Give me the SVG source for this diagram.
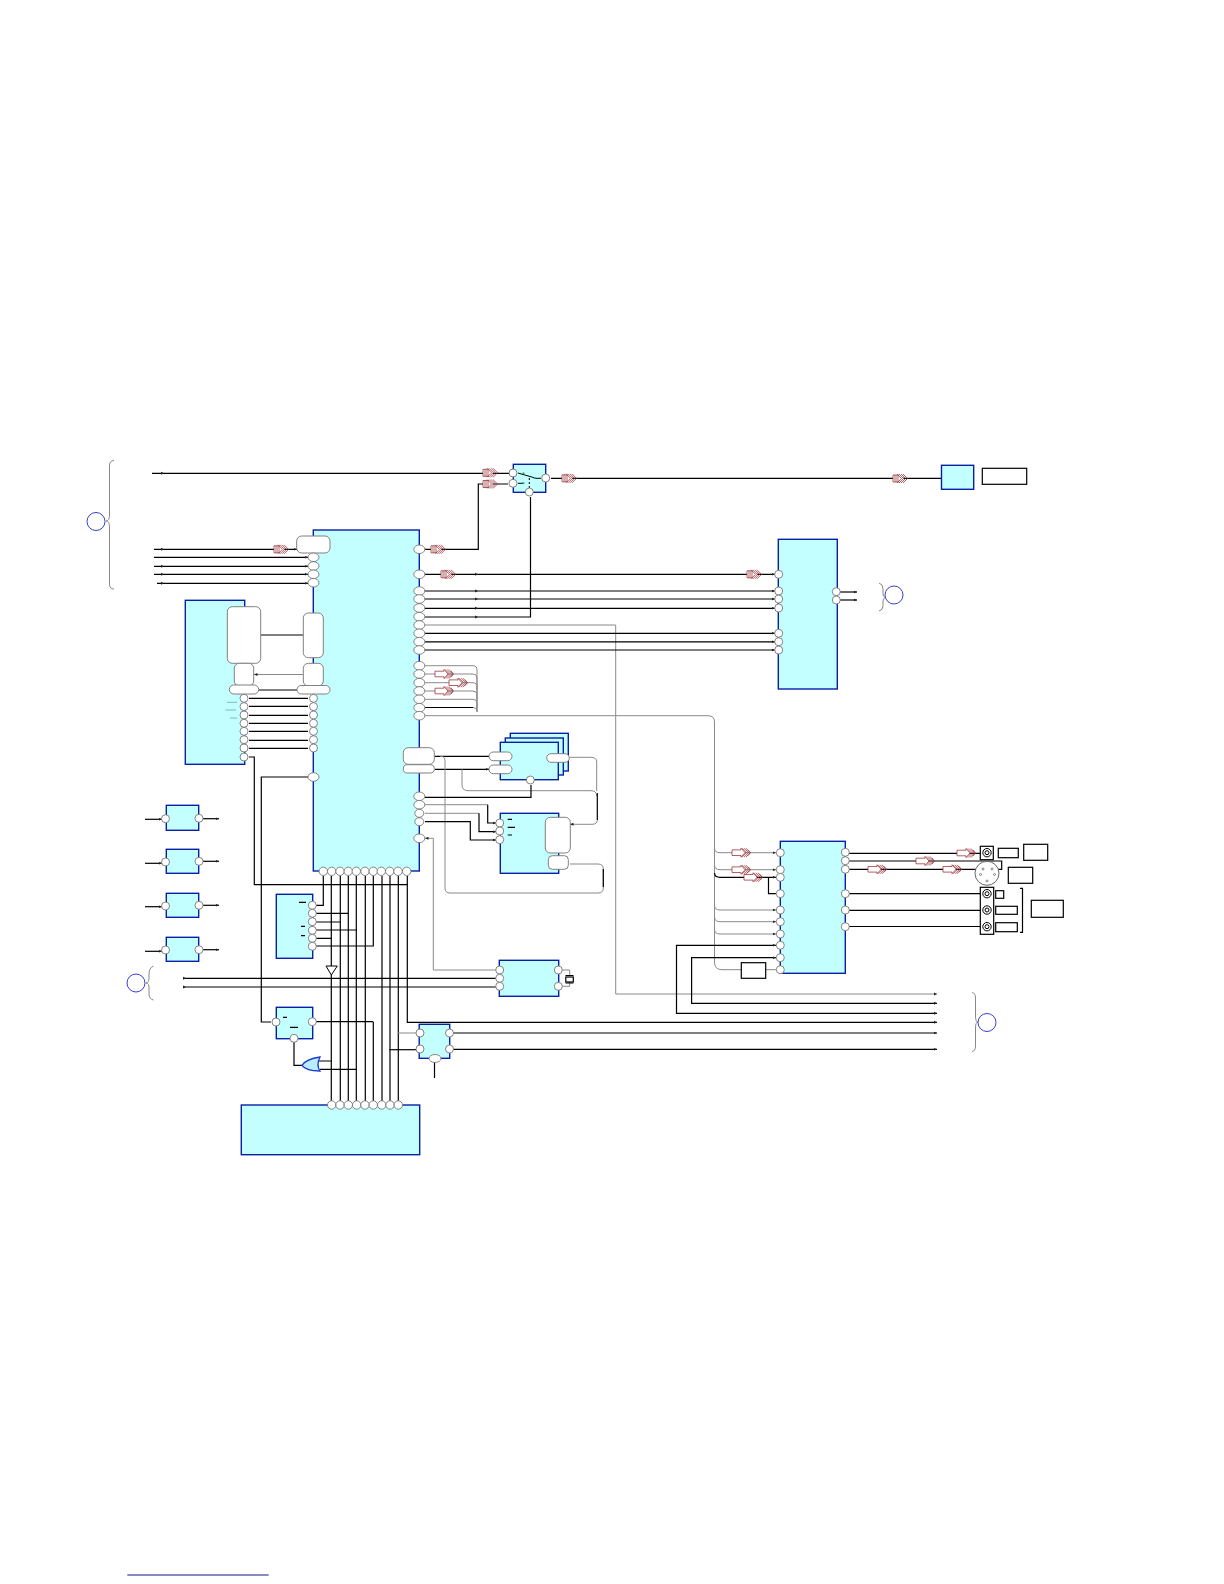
<svg xmlns="http://www.w3.org/2000/svg" width="1224" height="1584" viewBox="0 0 1224 1584">
<style>
.ic{fill:#c4ffff;stroke:#0a1fa8;stroke-width:1.4}
.p{fill:#fff;stroke:#777;stroke-width:.9}
.w{fill:#fff;stroke:#808080;stroke-width:1}
.k{fill:none;stroke:#000;stroke-width:1.2}
.g{fill:none;stroke:#8a8a8a;stroke-width:1}
.r{fill:none;stroke:#000;stroke-width:1.2}
.lb{fill:#fff;stroke:#000;stroke-width:1.2}
.br{fill:none;stroke:#888;stroke-width:1}
.c{fill:#fff;stroke:#3c3cd0;stroke-width:1}
.t{fill:none;stroke:#000;stroke-width:1}
.a{fill:#fff;stroke:#9c3a40;stroke-width:.8}
.d{fill:none;stroke:#9c3a40;stroke-width:.8}
</style>
<defs>
<marker id="h" markerUnits="userSpaceOnUse" markerWidth="4" markerHeight="4" refX="3.500" refY="2" orient="auto"><path d="M0,.5L3.500,2L0,3.500Z" fill="#222"/></marker>
<path id="tri" d="M-3,-1.500L0,0L-3,1.500Z" fill="#222"/>
<g id="dbl"><path class="a" d="M0,-3.500H6V3.500H0Z"/><path class="d" d="M2,-3.500V3.500M4,-3.500V3.500"/><path class="a" d="M6,-4.500L10.500,0L6,4.500"/><path class="d" d="M8,-4.500L12.500,0L8,4.500M10,-4.500L14.500,0L10,4.500M4,-4.500L8.500,0L4,4.500"/></g>
<g id="hol"><path class="a" d="M0,-2.800H9V-4.500L13,0L9,4.500V2.800H0Z"/><path class="d" d="M10,-4.500L14.500,0L10,4.500M12,-4.500L16.500,0L12,4.500M14,-4.500L18,0L14,4.500M16,-3L18.500,0L16,3"/></g>
</defs>

<g id="connectors">
<path class="k" d="M152,473.300H510"/>
<path class="k" d="M425,549.300H478.300V484H508"/>
<path class="k" d="M425,617H530.500V497"/>
<path class="k" d="M551,478.300H941"/>
<path class="k" marker-end="url(#h)" d="M154,549.300H297"/>
<path class="k" marker-end="url(#h)" d="M154,557.300H308"/>
<path class="k" marker-end="url(#h)" d="M154,566.300H308"/>
<path class="k" marker-end="url(#h)" d="M154,574.300H308"/>
<path class="k" marker-end="url(#h)" d="M157,583.300H308"/>
<path class="k" d="M261,635H303"/>
<path class="g" marker-end="url(#h)" d="M303,674.500H254"/>
<path class="k" d="M259,690H297"/>
<path class="k" d="M249,698.300H308M249,706.400H308M249,715.300H308M249,723.300H308M249,731.300H308M249,740.300H308M249,748.300H308"/>
<path class="k" d="M249,757H254.300V884.700H407.300"/>
<path class="k" marker-start="url(#h)" d="M308,777H261.300V1022H271"/>
<path class="k" marker-end="url(#h)" d="M425,574.300H775"/>
<path class="k" marker-end="url(#h)" d="M425,591H775"/>
<path class="k" marker-end="url(#h)" d="M425,599H775"/>
<path class="k" marker-end="url(#h)" d="M425,608.300H775"/>
<path class="g" d="M425,625H615.700V994H937"/>
<path class="k" marker-end="url(#h)" d="M425,633.300H775"/>
<path class="k" marker-end="url(#h)" d="M425,641.800H775"/>
<path class="k" marker-end="url(#h)" d="M425,650H775"/>
<path class="k" marker-end="url(#h)" d="M840,592H857"/>
<path class="k" marker-end="url(#h)" d="M840,600H857"/>
<path class="g" d="M425,665.700H473Q477,665.700 477,670V712"/>
<path class="g" d="M425,674H473Q477,674 477,678V690"/>
<path class="g" d="M425,682.700H473Q477,682.700 477,687V700"/>
<path class="g" d="M425,691H473Q477,691 477,695V708"/>
<path class="g" d="M425,699.300H473Q477,699.300 477,703V712"/>
<path class="k" d="M425,707.500H473"/>
<path class="g" d="M473,707.500Q477,707.500 477,711"/>
<path class="g" d="M425,715.700H708Q714.500,715.700 714.500,722V962Q714.500,969.700 722,969.700H741"/>
<path class="g" d="M765,969.700H776"/>
<path class="g" marker-end="url(#h)" d="M714.500,848Q714.500,852.700 720,852.700H776"/>
<path class="g" marker-end="url(#h)" d="M714.500,865Q714.500,869.700 720,869.700H776"/>
<path class="k" marker-end="url(#h)" d="M714.500,873Q714.500,877.300 720,877.300H776"/>
<path class="k" d="M768.500,877.300V893.700H776"/>
<path class="g" marker-end="url(#h)" d="M714.500,905Q714.500,910 720,910H776"/>
<path class="g" marker-end="url(#h)" d="M714.500,917Q714.500,921.700 720,921.700H776"/>
<path class="g" marker-end="url(#h)" d="M714.500,929Q714.500,934 720,934H776"/>
<path class="k" marker-end="url(#h)" d="M937,1013.300H676.500V945.300H776"/>
<path class="k" marker-end="url(#h)" d="M937,1003.300H691.600V957.700H776"/>
<path class="k" d="M849,853.300H985"/>
<path class="k" d="M849,861H1001.700V869.300H849"/>
<path class="k" d="M849,893.700H985M849,910.300H985M849,926.500H985"/>
<path class="k" marker-start="url(#h)" d="M435,756.300H489"/>
<path class="k" marker-end="url(#h)" d="M435,769.300H489"/>
<path class="g" d="M440,756.300H441Q445,756.300 445,761V888Q445,893 450,893H598Q603.300,893 603.300,888V869Q603.300,864 598,864H570"/>
<path class="k" d="M603.300,869V887"/>
<path class="g" d="M462,769.300V785Q462,790.700 468,790.700H591Q596.700,790.700 596.700,796"/>
<path class="g" d="M570,757.300H591Q596.700,757.300 596.700,762V791"/>
<path class="k" d="M597.300,793V820"/>
<path class="g" marker-end="url(#h)" d="M597.300,820Q597.300,824.300 592,824.300H570"/>
<path class="k" d="M425,797.300H531V785"/>
<path class="g" d="M425,804.700H487.700"/>
<path class="k" marker-end="url(#h)" d="M487.700,804.700V823H496"/>
<path class="g" d="M425,813.300H479"/>
<path class="k" marker-end="url(#h)" d="M479,813.300V831.700H496"/>
<path class="k" marker-end="url(#h)" d="M425,821.700H470.300V840H496"/>
<path class="g" marker-end="url(#h)" d="M496,970H433.300V838.300H425"/>
<path class="k" d="M183,978.300H496M183,987H496"/>
<path class="g" d="M562,970H569.700V976M562,986.300H569.700V982"/>
<path class="k" d="M323.300,876V905.300H316"/>
<path class="k" d="M331.300,876V966"/>
<path class="k" d="M331.300,975V1101"/>
<path class="k" d="M340.300,876V1101M348.300,876V1101M356.300,876V1101M365.300,876V1101"/>
<path class="k" d="M373.300,876V946H316"/>
<path class="k" d="M373.300,1022V1101"/>
<path class="k" d="M382,876V1101M390,876V1101M398.300,876V1101"/>
<path class="k" d="M407.300,876V1022.300H937"/>
<path class="k" d="M316,913.300H348.300M316,922H340M316,930H357M316,938.300H332"/>
<path class="k" d="M316,1021.700H373.300"/>
<path class="k" d="M294,1042V1065.300H302"/>
<path class="k" d="M318,1061H331.300M320,1069.300H357"/>
<path class="g" d="M397.700,1033H416"/>
<path class="k" d="M389.300,1049.700H416"/>
<path class="k" marker-end="url(#h)" d="M453,1033H937"/>
<path class="k" marker-end="url(#h)" d="M453,1049.300H937"/>
<path class="k" d="M434.500,1062V1078"/>
<path class="k" marker-end="url(#h)" d="M145,819.300H162"/>
<path class="k" marker-end="url(#h)" d="M203,818.700H219"/>
<path class="k" marker-end="url(#h)" d="M145,863.300H162"/>
<path class="k" marker-end="url(#h)" d="M203,861.300H219"/>
<path class="k" marker-end="url(#h)" d="M145,906.700H162"/>
<path class="k" marker-end="url(#h)" d="M203,905.300H219"/>
<path class="k" marker-end="url(#h)" d="M145,951.300H162"/>
<path class="k" marker-end="url(#h)" d="M203,949.700H219"/>
<g id="ticks">
<use href="#tri" x="164" y="473.300"/><use href="#tri" x="164" y="549.300"/><use href="#tri" x="164" y="566.300"/><use href="#tri" x="164" y="574.300"/><use href="#tri" x="164" y="583.300"/>
<use href="#tri" x="478" y="574.300"/><use href="#tri" x="478" y="591"/><use href="#tri" x="478" y="599"/><use href="#tri" x="478" y="608.300"/><use href="#tri" x="478" y="617"/>
<use href="#tri" x="937" y="994"/><use href="#tri" x="937" y="1003.300"/><use href="#tri" x="937" y="1013.300"/><use href="#tri" x="937" y="1022.300"/>
<use href="#tri" x="186" y="978.300"/><use href="#tri" x="186" y="987"/>
</g>
</g>

<g id="u-switch"><rect class="ic" x="513.300" y="464.300" width="32.400" height="28"/>
<path class="t" d="M518,473L530,476.500L536,478.300H541M518,483.300H524"/><path class="t" stroke-dasharray="2 2" d="M529.300,478V488"/>
<circle cx="523.500" cy="473.300" r="1" fill="#2a6"/><circle cx="534.500" cy="478" r="1" fill="#2a6"/><circle cx="523.500" cy="483.300" r="1" fill="#2a6"/>
<circle class="p" cx="513" cy="473" r="4"/><circle class="p" cx="513" cy="483.300" r="4"/><circle class="p" cx="545.700" cy="478" r="4"/><circle class="p" cx="529.300" cy="492" r="4"/></g>
<g id="u-top-right"><rect class="ic" x="941.500" y="465.300" width="32.200" height="24"/></g>
<g id="lbl-top-right"><rect class="lb" x="982.300" y="468.300" width="44.400" height="16"/></g>

<g id="u-main"><rect class="ic" x="313.300" y="530" width="106" height="341"/>
<rect class="w" x="296.700" y="536" width="33.300" height="17" rx="5"/>
<rect class="w" x="303.300" y="613" width="20" height="44.700" rx="5"/>
<rect class="w" x="303.300" y="663.300" width="20" height="22.700" rx="5"/>
<rect class="w" x="297" y="685.500" width="33" height="8.500" rx="4.200"/>
<rect class="w" x="403.300" y="747.700" width="31" height="16.600" rx="5"/>
<rect class="w" x="403.300" y="764.700" width="31" height="8.300" rx="4.100"/>
<g class="pins">
<ellipse class="p" cx="313.500" cy="557.300" rx="5.500" ry="4.300"/><ellipse class="p" cx="313.500" cy="566" rx="5.500" ry="4.300"/><ellipse class="p" cx="313.500" cy="574.300" rx="5.500" ry="4.300"/><ellipse class="p" cx="313.500" cy="582.700" rx="5.500" ry="4.300"/>
<circle class="p" cx="313.500" cy="698.300" r="4"/><circle class="p" cx="313.500" cy="706.600" r="4"/><circle class="p" cx="313.500" cy="715" r="4"/><circle class="p" cx="313.500" cy="723.300" r="4"/><circle class="p" cx="313.500" cy="731.300" r="4"/><circle class="p" cx="313.500" cy="739.700" r="4"/><circle class="p" cx="313.500" cy="748" r="4"/>
<ellipse class="p" cx="313.500" cy="777" rx="5.500" ry="4.300"/>
<ellipse class="p" cx="419.300" cy="549.300" rx="5.500" ry="4.300"/><ellipse class="p" cx="419.300" cy="574.300" rx="5.500" ry="4.300"/>
<ellipse class="p" cx="419.300" cy="591" rx="5.500" ry="4.300"/><ellipse class="p" cx="419.300" cy="599" rx="5.500" ry="4.300"/><ellipse class="p" cx="419.300" cy="608" rx="5.500" ry="4.300"/><ellipse class="p" cx="419.300" cy="616.700" rx="5.500" ry="4.300"/><ellipse class="p" cx="419.300" cy="625" rx="5.500" ry="4.300"/><ellipse class="p" cx="419.300" cy="633.300" rx="5.500" ry="4.300"/><ellipse class="p" cx="419.300" cy="641.700" rx="5.500" ry="4.300"/><ellipse class="p" cx="419.300" cy="650" rx="5.500" ry="4.300"/>
<ellipse class="p" cx="419.300" cy="665.700" rx="5.500" ry="4.300"/><ellipse class="p" cx="419.300" cy="674" rx="5.500" ry="4.300"/><ellipse class="p" cx="419.300" cy="682.700" rx="5.500" ry="4.300"/><ellipse class="p" cx="419.300" cy="691" rx="5.500" ry="4.300"/><ellipse class="p" cx="419.300" cy="699.300" rx="5.500" ry="4.300"/><ellipse class="p" cx="419.300" cy="707.700" rx="5.500" ry="4.300"/><ellipse class="p" cx="419.300" cy="715.700" rx="5.500" ry="4.300"/>
<ellipse class="p" cx="419.300" cy="796.300" rx="5.500" ry="4.300"/><ellipse class="p" cx="419.300" cy="804.700" rx="5.500" ry="4.300"/><ellipse class="p" cx="419.300" cy="813.300" rx="4.500" ry="4"/><ellipse class="p" cx="419.300" cy="821.700" rx="4.500" ry="4"/><ellipse class="p" cx="419.300" cy="838.300" rx="5.500" ry="4.300"/>
<circle class="p" cx="323.300" cy="871.300" r="4.200"/><circle class="p" cx="331.700" cy="871.300" r="4.200"/><circle class="p" cx="340" cy="871.300" r="4.200"/><circle class="p" cx="348.300" cy="871.300" r="4.200"/><circle class="p" cx="356.300" cy="871.300" r="4.200"/><circle class="p" cx="365" cy="871.300" r="4.200"/><circle class="p" cx="373.300" cy="871.300" r="4.200"/><circle class="p" cx="381.300" cy="871.300" r="4.200"/><circle class="p" cx="389.700" cy="871.300" r="4.200"/><circle class="p" cx="398" cy="871.300" r="4.200"/><circle class="p" cx="406.700" cy="871.300" r="4.200"/>
</g></g>

<g id="u-left"><rect class="ic" x="185.300" y="600.300" width="59.400" height="164"/>
<rect class="w" x="227.300" y="606.700" width="33.400" height="56.600" rx="5"/>
<rect class="w" x="234.300" y="663.300" width="19.400" height="22.700" rx="5"/>
<rect class="w" x="229.300" y="685" width="29.400" height="9" rx="4.500"/>
<path d="M227,702.300H237M225.500,710H236M230,718H237" fill="none" stroke="#6aa" stroke-width=".8"/>
<circle class="p" cx="244" cy="698.300" r="4"/><circle class="p" cx="244" cy="706.600" r="4"/><circle class="p" cx="244" cy="715" r="4"/><circle class="p" cx="244" cy="723.300" r="4"/><circle class="p" cx="244" cy="731.300" r="4"/><circle class="p" cx="244" cy="739.700" r="4"/><circle class="p" cx="244" cy="748" r="4"/><circle class="p" cx="244" cy="757" r="4"/></g>

<g id="u-right-top"><rect class="ic" x="778.300" y="539.300" width="59" height="149.700"/>
<circle class="p" cx="778.700" cy="574.300" r="4"/><circle class="p" cx="778.700" cy="591" r="4"/><circle class="p" cx="778.700" cy="599" r="4"/><circle class="p" cx="778.700" cy="608" r="4"/><circle class="p" cx="778.700" cy="633.300" r="4"/><circle class="p" cx="778.700" cy="641.700" r="4"/><circle class="p" cx="778.700" cy="650" r="4"/><circle class="p" cx="836.300" cy="591.700" r="4"/><circle class="p" cx="836.300" cy="600" r="4"/></g>

<g id="u-stack"><rect class="ic" x="510.300" y="733.300" width="58" height="37.700"/><rect class="ic" x="505.300" y="738" width="58" height="37"/><rect class="ic" x="500.300" y="742.300" width="58" height="37.400"/>
<rect class="w" x="489" y="752" width="23" height="8.700" rx="4.300"/><rect class="w" x="489" y="765" width="23" height="8.700" rx="4.300"/><rect class="w" x="546.700" y="753.700" width="22.600" height="8.600" rx="4.300"/><circle class="p" cx="530.300" cy="780" r="4"/></g>

<g id="u-mid"><rect class="ic" x="500.300" y="813.300" width="58.400" height="60"/>
<path class="k" d="M507.700,819.300H512M507.700,827.300H515M507.700,835H512"/>
<rect class="w" x="545.300" y="817.300" width="25" height="35.700" rx="5"/><rect class="w" x="548.300" y="855.700" width="20" height="13.600" rx="4"/>
<circle class="p" cx="499.700" cy="823" r="4"/><circle class="p" cx="499.700" cy="831" r="4"/><circle class="p" cx="499.700" cy="839.700" r="4"/></g>

<g id="u-xtal"><rect class="ic" x="499.300" y="960.300" width="59.400" height="36"/>
<circle class="p" cx="499.700" cy="970" r="4"/><circle class="p" cx="499.700" cy="978.300" r="4"/><circle class="p" cx="499.700" cy="986.300" r="4"/><circle class="p" cx="558.300" cy="970" r="4"/><circle class="p" cx="558.300" cy="986.300" r="4"/>
<rect x="565.800" y="977" width="7.500" height="5" fill="#fff" stroke="#000" stroke-width="1.200"/><path class="k" d="M565.500,975.500H573.500M565.500,983H573.500"/></g>

<g id="u-av"><rect class="ic" x="780.300" y="841.300" width="65" height="132"/>
<circle class="p" cx="780.300" cy="852.700" r="4"/><circle class="p" cx="780.300" cy="869.700" r="4"/><circle class="p" cx="780.300" cy="877.300" r="4"/><circle class="p" cx="780.300" cy="893.700" r="4"/><circle class="p" cx="780.300" cy="910" r="4"/><circle class="p" cx="780.300" cy="921.700" r="4"/><circle class="p" cx="780.300" cy="934" r="4"/><circle class="p" cx="780.300" cy="945.300" r="4"/><circle class="p" cx="780.300" cy="957.700" r="4"/><circle class="p" cx="780.300" cy="969.700" r="4"/>
<circle class="p" cx="845.300" cy="852.300" r="4"/><circle class="p" cx="845.300" cy="860.700" r="4"/><circle class="p" cx="845.300" cy="869.300" r="4"/><circle class="p" cx="845.300" cy="893.700" r="4"/><circle class="p" cx="845.300" cy="910" r="4"/><circle class="p" cx="845.300" cy="926.700" r="4"/></g>
<g id="lbl-av"><rect class="lb" x="741.300" y="962.700" width="24.400" height="15.600"/></g>

<g id="j-top"><rect class="lb" x="980.300" y="846.300" width="13" height="13.400"/><circle class="t" cx="987" cy="852.700" r="4.200"/><circle class="t" cx="987" cy="852.700" r="2"/></g>
<g id="j-mic"><circle cx="987" cy="873.300" r="12" fill="#fff" stroke="#666"/><circle cx="983" cy="869" r="1" fill="#fff" stroke="#444" stroke-width=".6"/><circle cx="992" cy="869" r="1" fill="#fff" stroke="#444" stroke-width=".6"/><circle cx="980.500" cy="874.500" r="1" fill="#fff" stroke="#444" stroke-width=".6"/><circle cx="994.500" cy="874.500" r="1" fill="#fff" stroke="#444" stroke-width=".6"/><circle cx="987" cy="881" r="1" fill="#fff" stroke="#444" stroke-width=".6"/></g>
<g id="j-tri"><rect class="lb" x="980.300" y="887.300" width="13.400" height="47"/><circle class="t" cx="987" cy="893.700" r="4.200"/><circle class="t" cx="987" cy="893.700" r="2"/><circle class="t" cx="987" cy="910" r="4.200"/><circle class="t" cx="987" cy="910" r="2"/><circle class="t" cx="987" cy="926.700" r="4.200"/><circle class="t" cx="987" cy="926.700" r="2"/></g>
<g id="lbl-outs">
<rect class="lb" x="998.300" y="848.300" width="20" height="9.400"/><rect class="lb" x="1023.700" y="844.300" width="24" height="16"/><rect class="lb" x="1008.300" y="867.300" width="24.400" height="16"/>
<rect class="lb" x="995.700" y="890.700" width="8" height="7.600"/><rect class="lb" x="995.700" y="906.300" width="21.600" height="8"/><rect class="lb" x="995.700" y="922.700" width="21.600" height="9"/>
<path class="r" d="M1020,888.300H1022.500V932.300H1020"/>
<rect class="lb" x="1031.300" y="900.300" width="32" height="17"/></g>

<g id="u-bot"><rect class="ic" x="241.300" y="1105" width="178.400" height="49.700"/>
<circle class="p" cx="331.700" cy="1105" r="4.200"/><circle class="p" cx="340" cy="1105" r="4.200"/><circle class="p" cx="348.300" cy="1105" r="4.200"/><circle class="p" cx="356.700" cy="1105" r="4.200"/><circle class="p" cx="365" cy="1105" r="4.200"/><circle class="p" cx="373.300" cy="1105" r="4.200"/><circle class="p" cx="381.700" cy="1105" r="4.200"/><circle class="p" cx="390" cy="1105" r="4.200"/><circle class="p" cx="398.300" cy="1105" r="4.200"/></g>

<g id="u-six"><rect class="ic" x="276.300" y="894.300" width="36.400" height="64"/>
<path class="k" d="M299,902.300H306M301,926.300H305M301,935.700H305"/>
<circle class="p" cx="312.300" cy="905.300" r="4"/><circle class="p" cx="312.300" cy="913.300" r="4"/><circle class="p" cx="312.300" cy="921.700" r="4"/><circle class="p" cx="312.300" cy="930.300" r="4"/><circle class="p" cx="312.300" cy="938.300" r="4"/><circle class="p" cx="312.300" cy="946.300" r="4"/></g>
<g id="buf"><path d="M326,966H337.300L331.300,975Z" fill="#fff" stroke="#000" stroke-width="1"/></g>
<g id="u-flop"><rect class="ic" x="276.300" y="1007.300" width="36.400" height="31.400"/><path class="k" d="M283,1017.300H287M290,1027.300H298"/><circle class="p" cx="276" cy="1022" r="4"/><circle class="p" cx="312.300" cy="1021.700" r="4"/><circle class="p" cx="294" cy="1038.300" r="4"/></g>
<g id="or"><path d="M302,1065.300Q306,1059 320,1057Q316,1065 320,1071Q306,1071 302,1065.300Z" fill="#b9ecff" stroke="#1a3ad0" stroke-width="1.300"/></g>
<g id="u-sw2"><rect class="ic" x="419.200" y="1024.300" width="30.500" height="34"/><circle class="p" cx="420" cy="1033" r="4"/><circle class="p" cx="420" cy="1049" r="4"/><circle class="p" cx="449.500" cy="1033" r="4"/><circle class="p" cx="449.500" cy="1049" r="4"/><ellipse class="p" cx="435" cy="1058.500" rx="6" ry="4"/></g>

<g id="u-b1"><rect class="ic" x="166.300" y="805.300" width="32.400" height="25"/><circle class="p" cx="165.500" cy="818.700" r="4"/><circle class="p" cx="199" cy="818.300" r="4"/></g>
<g id="u-b2"><rect class="ic" x="166.300" y="849.300" width="32.400" height="24"/><circle class="p" cx="165.500" cy="862" r="4"/><circle class="p" cx="199" cy="861.300" r="4"/></g>
<g id="u-b3"><rect class="ic" x="166.300" y="893.300" width="32.400" height="24"/><circle class="p" cx="165.500" cy="906" r="4"/><circle class="p" cx="199" cy="905.300" r="4"/></g>
<g id="u-b4"><rect class="ic" x="166.300" y="937.300" width="32.400" height="24"/><circle class="p" cx="165.500" cy="950" r="4"/><circle class="p" cx="199" cy="949.700" r="4"/></g>

<g id="braces">
<path class="br" d="M114,460.500Q109.500,460.500 109.500,466V515Q109.500,521 106,521Q109.500,521 109.500,527V584Q109.500,589 114,589"/>
<circle class="c" cx="96" cy="521.500" r="9"/>
<path class="br" d="M153.500,966Q149,968 149,974V978Q149,983 146,983Q149,983 149,988V994Q149,999 153.500,1000"/>
<circle class="c" cx="136" cy="983" r="9"/>
<path class="br" d="M879,583Q883,584 883,589V593Q883,597.500 886,597.500Q883,597.500 883,602V606Q883,610 879,611"/>
<circle class="c" cx="894" cy="595" r="9"/>
<path class="br" d="M972,992.500Q975.500,993 975.500,998V1016Q975.500,1022 978,1022Q975.500,1022 975.500,1028V1046Q975.500,1051 972,1051.500"/>
<circle class="c" cx="987" cy="1022.500" r="9"/>
</g>

<g id="bus-arrows">
<use href="#dbl" x="483" y="472.800"/><use href="#dbl" x="483" y="484"/><use href="#dbl" x="562" y="478.300"/><use href="#dbl" x="893" y="478.500"/>
<use href="#dbl" x="274" y="549.300"/><use href="#dbl" x="431" y="549.300"/><use href="#dbl" x="441" y="574.300"/><use href="#dbl" x="747" y="574.300"/>
<use href="#hol" x="435" y="674"/><use href="#hol" x="449" y="682.700"/><use href="#hol" x="435" y="691"/>
<use href="#hol" x="732" y="852.700"/><use href="#hol" x="732" y="869.700"/><use href="#hol" x="744" y="877.300"/>
<use href="#hol" x="868" y="869.300"/><use href="#hol" x="916" y="861"/><use href="#hol" x="943" y="869.300"/><use href="#hol" x="957" y="853"/>
</g>
<g id="footer"><path d="M127.300,1575H268.700" fill="none" stroke="#14148c" stroke-width="1.200"/></g>
</svg>
